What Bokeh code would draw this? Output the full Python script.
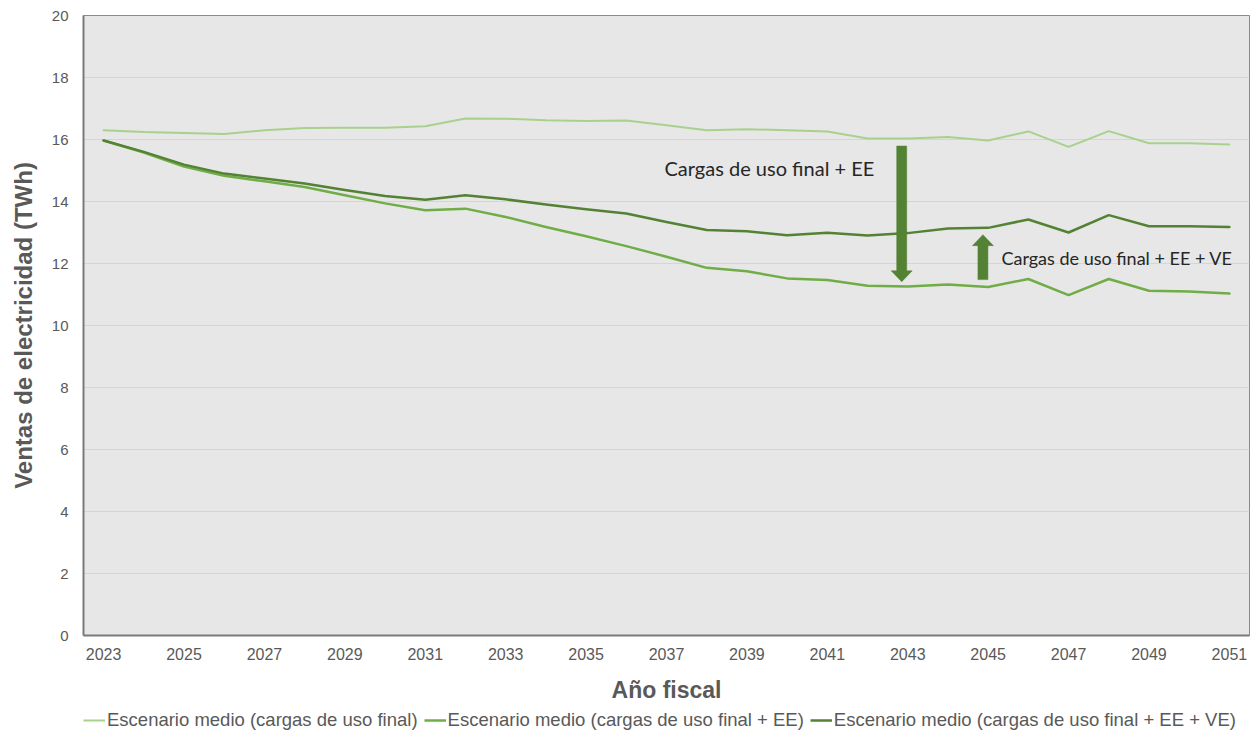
from bokeh.plotting import figure
from bokeh.layouts import column
from bokeh.models import (Legend, LegendItem, Label, FixedTicker, ColumnDataSource)
from bokeh.embed import file_html
from bokeh.resources import INLINE

# Fiscal years and electricity sales (TWh) for the three medium scenarios
years = list(range(2023, 2052))

final_loads = [16.30, 16.24, 16.21, 16.18, 16.30, 16.37, 16.38, 16.38, 16.43, 16.68,
               16.67, 16.62, 16.60, 16.61, 16.46, 16.30, 16.33, 16.30, 16.26, 16.03,
               16.03, 16.08, 15.97, 16.26, 15.76, 16.27, 15.88, 15.88, 15.84]

final_loads_ee = [15.97, 15.58, 15.13, 14.83, 14.65, 14.47, 14.20, 13.94, 13.72, 13.77,
                  13.50, 13.18, 12.88, 12.56, 12.22, 11.86, 11.75, 11.52, 11.47, 11.28,
                  11.26, 11.32, 11.24, 11.50, 10.98, 11.50, 11.12, 11.10, 11.03]

final_loads_ee_ve = [15.97, 15.60, 15.19, 14.90, 14.74, 14.58, 14.37, 14.18, 14.06, 14.20,
                     14.07, 13.90, 13.75, 13.61, 13.34, 13.08, 13.04, 12.91, 12.99, 12.90,
                     12.98, 13.13, 13.15, 13.42, 13.00, 13.56, 13.20, 13.20, 13.18]

series_names = ["Escenario medio (cargas de uso final)",
                "Escenario medio (cargas de uso final + EE)",
                "Escenario medio (cargas de uso final + EE + VE)"]
series_values = [final_loads, final_loads_ee, final_loads_ee_ve]
series_colors = ["#a9d18e", "#70ad47", "#548235"]
series_widths = [2, 2.5, 2.5]

x_ticks = list(range(2023, 2052, 2))
y_ticks = list(range(0, 21, 2))

# Page geometry: chart on top, legend strip underneath
W = 1253
CHART_H, LEGEND_H = 705, 35
BL, BR, BT, BB = 83, 4, 15, 68
X0, X1 = 2022.5, 2051.5
Y0, Y1 = 0, 20
frame_w = W - BL - BR
frame_h = CHART_H - BT - BB

p = figure(width=W, height=CHART_H,
           x_range=(X0, X1), y_range=(Y0, Y1),
           output_backend="svg", toolbar_location=None,
           min_border_left=BL, min_border_right=BR,
           min_border_top=BT, min_border_bottom=BB,
           background_fill_color="#e7e7e7", border_fill_color="white")

p.outline_line_color = "#8a8a8a"
p.outline_line_width = 1

p.xgrid.grid_line_color = None
p.ygrid.grid_line_color = "#d5d5d5"
p.ygrid.grid_line_width = 1

tick_font = "Liberation Sans"
for ax in (p.xaxis[0], p.yaxis[0]):
    ax.axis_line_color = "#7a7a7a"
    ax.axis_line_width = 2
    ax.major_tick_line_color = None
    ax.minor_tick_line_color = None
    ax.major_label_text_font = tick_font
    ax.major_label_text_color = "#595959"
    ax.axis_label_text_font = tick_font
    ax.axis_label_text_font_style = "bold"
    ax.axis_label_text_color = "#595959"

p.xaxis.ticker = FixedTicker(ticks=x_ticks)
p.yaxis.ticker = FixedTicker(ticks=y_ticks)
p.xaxis.major_label_text_font_size = "16px"
p.yaxis.major_label_text_font_size = "15px"
p.xaxis.major_label_standoff = 6
p.yaxis.major_label_standoff = 9
p.xaxis.axis_label = "Año fiscal"
p.xaxis.axis_label_text_font_size = "23px"
p.xaxis.axis_label_standoff = 14
p.yaxis.axis_label = "Ventas de electricidad (TWh)"
p.yaxis.axis_label_text_font_size = "24px"
p.yaxis.axis_label_standoff = 12

for vals, color, lw in zip(series_values, series_colors, series_widths):
    src = ColumnDataSource(data=dict(x=years, y=vals))
    p.line("x", "y", source=src, line_color=color, line_width=lw,
           line_join="round", line_cap="round")

# Block arrows (sizes given in screen pixels, converted to data units)
dx = (X1 - X0) / frame_w
dy = (Y1 - Y0) / frame_h
arrow_color = "#548235"


def block_arrow(x, y_start, y_tip, shaft_px=10, head_w_px=21, head_len_px=11):
    sgn = 1 if y_tip > y_start else -1
    hs = shaft_px / 2 * dx
    hh = head_w_px / 2 * dx
    y_neck = y_tip - sgn * head_len_px * dy
    xs = [x - hs, x - hs, x - hh, x, x + hh, x + hs, x + hs]
    ys = [y_start, y_neck, y_neck, y_tip, y_neck, y_neck, y_start]
    p.patch(xs, ys, fill_color=arrow_color, line_color=arrow_color, line_width=0.5)


block_arrow(2042.85, 15.79, 11.41)
block_arrow(2044.87, 11.48, 12.93)

p.add_layout(Label(x=2036.95, y=15.08, text="Cargas de uso final + EE",
                   text_font="Lato", text_font_size="20px", text_color="#262626",
                   text_baseline="alphabetic", text_align="left"))
p.add_layout(Label(x=2045.33, y=12.19, text="Cargas de uso final + EE + VE",
                   text_font="Lato", text_font_size="18px", text_color="#262626",
                   text_baseline="alphabetic", text_align="left"))

# Legend strip: the same series drawn in a narrow figure whose y-range keeps
# the lines out of view, so only the legend entries show
lg = figure(width=W, height=LEGEND_H, x_range=(X0, X1), y_range=(100, 101),
            output_backend="svg", toolbar_location=None,
            x_axis_type=None, y_axis_type=None,
            min_border_left=BL, min_border_right=BR, min_border_top=0, min_border_bottom=0,
            background_fill_color="white", border_fill_color="white",
            outline_line_color=None)
lg.xgrid.visible = False
lg.ygrid.visible = False
legend_renderers = []
for vals, color, lw in zip(series_values, series_colors, series_widths):
    src = ColumnDataSource(data=dict(x=years, y=vals))
    legend_renderers.append(lg.line("x", "y", source=src, line_color=color, line_width=lw))

legend = Legend(items=[LegendItem(label=n, renderers=[r])
                       for n, r in zip(series_names, legend_renderers)],
                orientation="horizontal", location=(0, 9),
                label_text_font=tick_font, label_text_font_size="18.5px",
                label_text_color="#595959", glyph_width=22, glyph_height=14,
                label_standoff=2, spacing=6, padding=2, margin=0,
                border_line_color=None, background_fill_alpha=0)
lg.add_layout(legend, "center")

layout = column(p, lg, spacing=0)
open("out.html", "w").write(file_html(layout, INLINE))
